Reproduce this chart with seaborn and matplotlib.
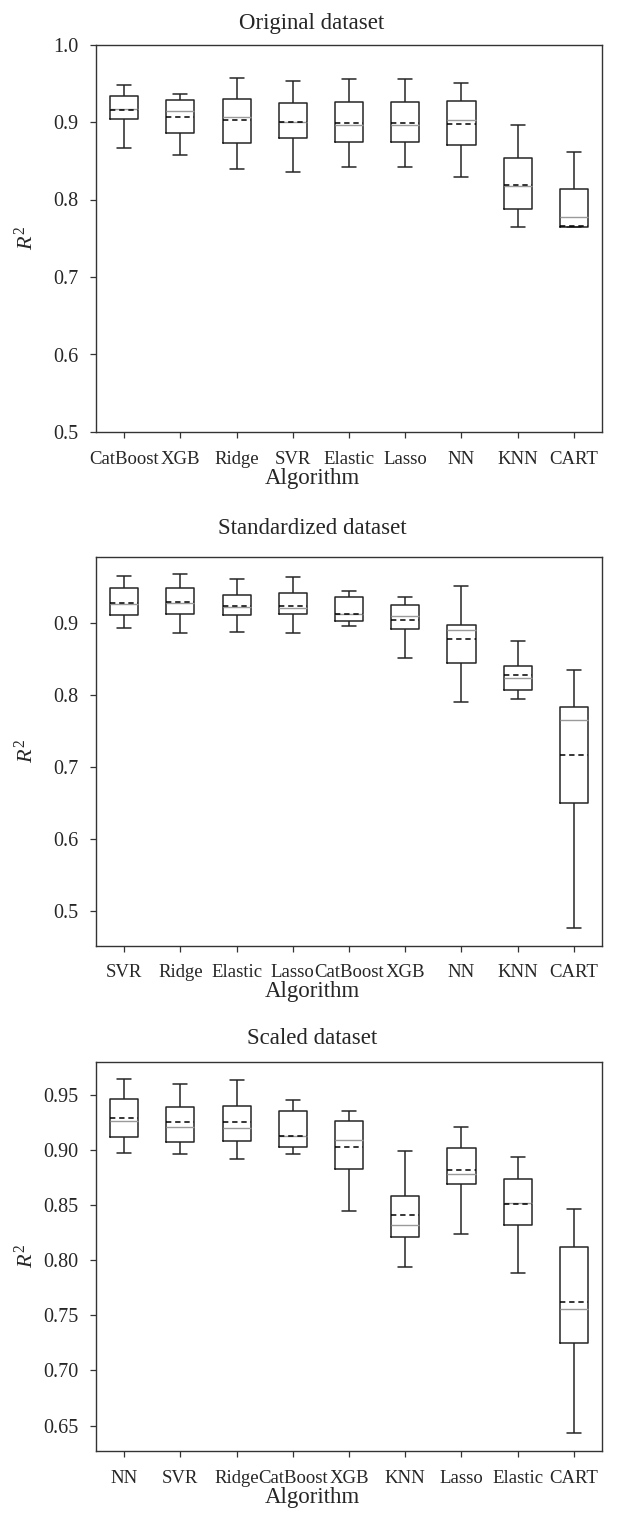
import numpy as np
import pandas as pd
import matplotlib
matplotlib.use("Agg")
import matplotlib.pyplot as plt
from matplotlib.ticker import MultipleLocator, FormatStrFormatter
import seaborn as sns

# ---------------- data ----------------
orig_algos = ["CatBoost", "XGB", "Ridge", "SVR", "Elastic", "Lasso", "NN", "KNN", "CART"]
orig_min  = [0.866, 0.857, 0.840, 0.836, 0.842, 0.842, 0.829, 0.765, 0.765]
orig_q1   = [0.904, 0.886, 0.873, 0.880, 0.874, 0.874, 0.870, 0.788, 0.765]
orig_med  = [0.917, 0.914, 0.906, 0.900, 0.896, 0.896, 0.903, 0.817, 0.778]
orig_q3   = [0.934, 0.928, 0.930, 0.924, 0.926, 0.926, 0.927, 0.854, 0.813]
orig_max  = [0.948, 0.936, 0.957, 0.953, 0.955, 0.955, 0.950, 0.896, 0.861]
orig_mean = [0.916, 0.906, 0.903, 0.900, 0.899, 0.899, 0.897, 0.819, 0.766]

std_algos = ["SVR", "Ridge", "Elastic", "Lasso", "CatBoost", "XGB", "NN", "KNN", "CART"]
std_min  = [0.893, 0.886, 0.888, 0.887, 0.896, 0.852, 0.790, 0.795, 0.476]
std_q1   = [0.911, 0.913, 0.912, 0.913, 0.903, 0.892, 0.845, 0.807, 0.650]
std_med  = [0.927, 0.928, 0.923, 0.921, 0.913, 0.910, 0.891, 0.824, 0.765]
std_q3   = [0.949, 0.949, 0.940, 0.942, 0.936, 0.925, 0.898, 0.841, 0.783]
std_max  = [0.966, 0.968, 0.962, 0.964, 0.945, 0.936, 0.952, 0.875, 0.835]
std_mean = [0.928, 0.929, 0.924, 0.924, 0.913, 0.904, 0.878, 0.828, 0.717]

scl_algos = ["NN", "SVR", "Ridge", "CatBoost", "XGB", "KNN", "Lasso", "Elastic", "CART"]
scl_min  = [0.897, 0.896, 0.892, 0.896, 0.845, 0.794, 0.824, 0.788, 0.643]
scl_q1   = [0.912, 0.907, 0.908, 0.903, 0.883, 0.821, 0.869, 0.832, 0.725]
scl_med  = [0.926, 0.921, 0.920, 0.913, 0.909, 0.832, 0.878, 0.852, 0.756]
scl_q3   = [0.946, 0.939, 0.940, 0.935, 0.926, 0.858, 0.902, 0.874, 0.812]
scl_max  = [0.964, 0.960, 0.963, 0.945, 0.935, 0.899, 0.921, 0.894, 0.846]
scl_mean = [0.929, 0.925, 0.925, 0.913, 0.903, 0.841, 0.882, 0.851, 0.762]

titles = ["Original dataset", "Standardized dataset", "Scaled dataset"]

# ---------------- style ----------------
sns.set_theme(style="ticks")
plt.rcParams["font.family"] = ["Liberation Serif", "DejaVu Serif"]
plt.rcParams["mathtext.fontset"] = "custom"
plt.rcParams["mathtext.rm"] = "Liberation Serif"
plt.rcParams["mathtext.it"] = "Liberation Serif:italic"

W, H = 630, 1513
fig = plt.figure(figsize=(W / 100, H / 100), dpi=100)

left_px, right_px = 96, 602
panels_px = [(44.5, 432.0), (556.7, 945.7), (1061.7, 1451.0)]
title_pads = [11, 16, 13]

panels = [
    (orig_algos, orig_min, orig_q1, orig_med, orig_q3, orig_max, orig_mean),
    (std_algos, std_min, std_q1, std_med, std_q3, std_max, std_mean),
    (scl_algos, scl_min, scl_q1, scl_med, scl_q3, scl_max, scl_mean),
]

edge = "#262626"
for i, (algos, mn, q1, md, q3, mx, mean) in enumerate(panels):
    top, bot = panels_px[i]
    ax = fig.add_axes([left_px / W, 1 - bot / H, (right_px - left_px) / W, (bot - top) / H])

    rows = []
    for a, a0, a1, a2, a3, a4 in zip(algos, mn, q1, md, q3, mx):
        for v in (a0, a1, a2, a3, a4):
            rows.append({"Algorithm": a, "R2": v})
    df = pd.DataFrame(rows)

    sns.boxplot(data=df, x="Algorithm", y="R2", order=algos, whis=(0, 100),
                width=0.5, fill=False, color=edge, linewidth=1.1,
                showfliers=False,
                medianprops=dict(color="#9a9a9a", linewidth=1.0),
                ax=ax)

    pos = np.arange(len(algos))
    ax.hlines(mean, pos - 0.25, pos + 0.25, colors="black",
              linestyles=(0, (3.5, 2.5)), linewidth=1.1, zorder=3)

    ax.set_xlim(-0.5, len(algos) - 0.5)
    if i == 0:
        ax.set_ylim(0.5, 1.0)
        ax.yaxis.set_major_locator(MultipleLocator(0.1))
        ax.yaxis.set_major_formatter(FormatStrFormatter("%.1f"))
    elif i == 1:
        ax.yaxis.set_major_locator(MultipleLocator(0.1))
        ax.yaxis.set_major_formatter(FormatStrFormatter("%.1f"))
    else:
        ax.yaxis.set_major_locator(MultipleLocator(0.05))
        ax.yaxis.set_major_formatter(FormatStrFormatter("%.2f"))

    for s in ax.spines.values():
        s.set_visible(True)
        s.set_color("#333333")
        s.set_linewidth(1.0)

    ax.tick_params(axis="both", direction="out", length=4.5, width=0.9,
                   color="#333333", top=False, right=False)
    ax.tick_params(axis="y", pad=8, labelsize=14.5)
    ax.tick_params(axis="x", pad=9, labelsize=13.5)

    ax.set_title(titles[i], fontsize=16.5, pad=title_pads[i], x=0.427)
    ax.set_xlabel("Algorithm", fontsize=16.5, labelpad=0)
    ax.xaxis.label.set_x(0.427)
    ax.set_ylabel("$R^2$", fontsize=16)
    ax.yaxis.set_label_coords(-0.115, 0.5)

fig.savefig("out.png", dpi=100)
